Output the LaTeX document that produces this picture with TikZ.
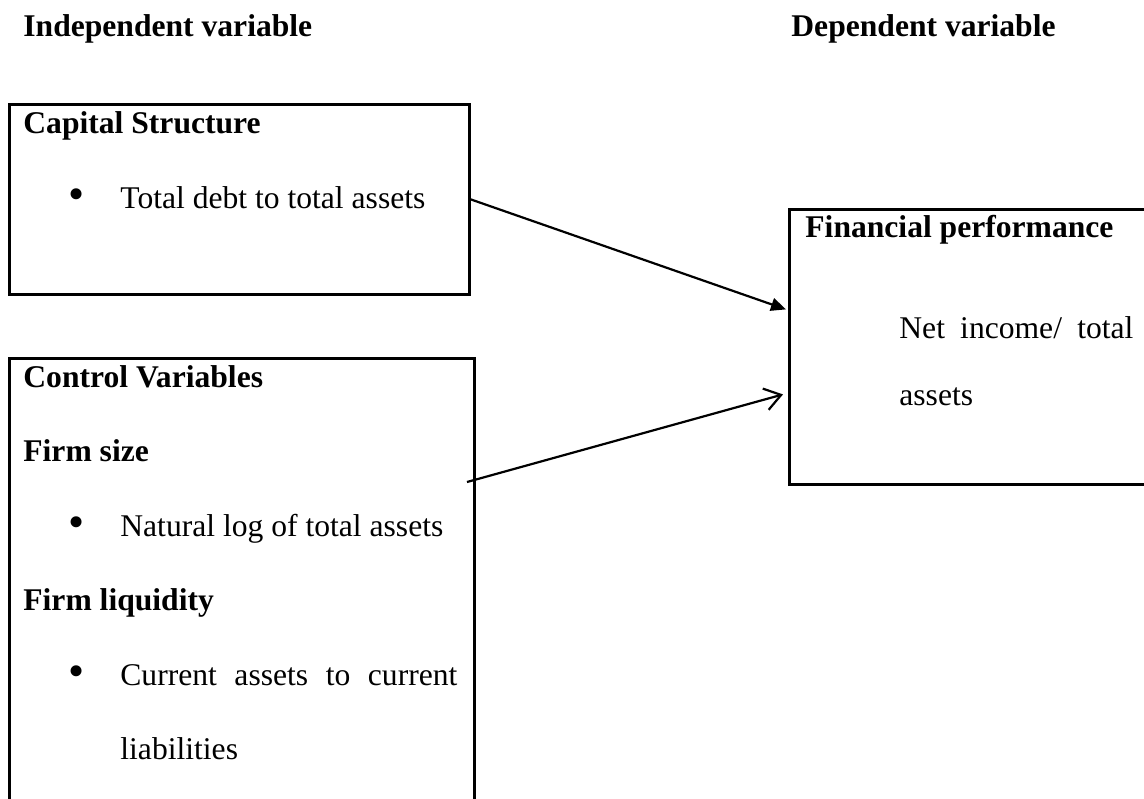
\documentclass[tikz,border=0pt]{standalone}
\usepackage{fontspec}
\setmainfont{Liberation Serif}
\usetikzlibrary{arrows.meta}
\begin{document}
\begin{tikzpicture}[x=0.5pt,y=-0.5pt,
  txt/.style={anchor=base west, inner sep=0pt, font=\fontsize{15.8}{19}\selectfont},
  hd/.style={anchor=base west, inner sep=0pt, font=\fontsize{15.8}{19}\selectfont\bfseries},
  bul/.style={anchor=center, inner sep=0pt, font=\fontsize{23}{25}\selectfont},
  box/.style={draw, line width=1.4pt, rectangle, inner sep=0pt, anchor=north west},
  conn/.style={line width=1.1pt}]
\useasboundingbox (0,0) rectangle (1144,798);
\clip (0,0) rectangle (1144,798);

% boxes
\node (cap) [box, minimum width=230pt, minimum height=95pt] at (8,103) {};
\node (ctl) [box, minimum width=232.5pt, minimum height=271.5pt] at (8,357) {};
\node (fin) [box, minimum width=186pt, minimum height=137.5pt] at (788,208) {};

% headings
\node (h1) [hd] at (23,36) {Independent variable};
\node (h2) [hd] at (791,36) {Dependent variable};

% capital structure
\node (t1) [hd] at (23,133) {Capital Structure};
\node (b1) [bul] at (77,199) {•};
\node (t2) [txt] at (120,208) {Total debt to total assets};

% control variables
\node (t3) [hd] at (23,387) {Control Variables};
\node (t4) [hd] at (23,461) {Firm size};
\node (b2) [bul] at (77,527) {•};
\node (t5) [txt] at (120,536) {Natural log of total assets};
\node (t6) [hd] at (23,610) {Firm liquidity};
\node (b3) [bul] at (77,676) {•};
\node (t7) [txt] at (120,685) {\makebox[168.5pt][s]{Current assets to current}};
\node (t8) [txt] at (120,759) {liabilities};

% financial performance
\node (t9) [hd] at (805,237) {Financial performance};
\node (t10) [txt] at (899,338) {\makebox[117pt][s]{Net income/ total}};
\node (t11) [txt] at (899,405) {assets};

% connectors
\coordinate (c2) at (467,482);
\coordinate (f1) at ([yshift=18.75pt, xshift=-1pt]fin.west);
\coordinate (f2) at ([yshift=-23.75pt, xshift=-2.5pt]fin.west);
\draw[conn, -{Triangle[length=7.5pt,width=6.5pt]}] (cap.east) -- (f1);
\draw[conn, -{Straight Barb[length=8pt,width=11pt,line width=1.1pt]}] (c2) -- (f2);
\end{tikzpicture}
\end{document}
